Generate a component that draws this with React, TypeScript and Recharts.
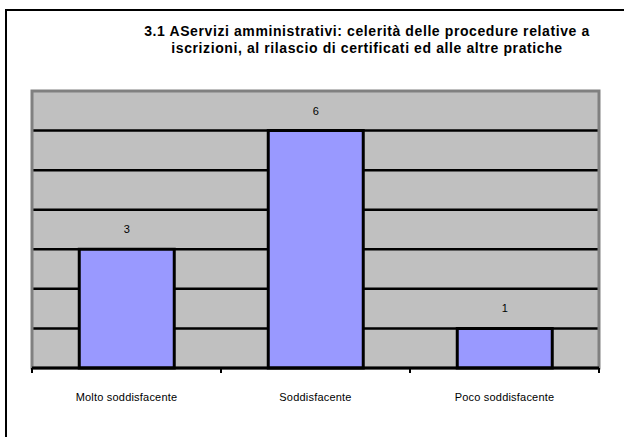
import { BarChart, Bar, XAxis, YAxis, CartesianGrid, LabelList, ReferenceArea } from "recharts";

const categories = ["Molto soddisfacente", "Soddisfacente", "Poco soddisfacente"];
const counts = [3, 6, 1];
const yTicks = [0, 1, 2, 3, 4, 5, 6, 7];
const gridValues = [1, 2, 3, 4, 5, 6];
const titleLines = [
  "3.1 AServizi amministrativi: celerità delle procedure relative a",
  "iscrizioni, al rilascio di certificati ed alle altre pratiche",
];

const data = categories.map((name, i) => ({ name, value: counts[i] }));

const FONT = "'Liberation Sans', Arial, sans-serif";

function CategoryTick(props: any) {
  const { x, y, payload } = props;
  const half = payload?.offset ?? 0;
  return (
    <g>
      <line x1={x - half} x2={x - half} y1={y} y2={y + 5} stroke="#000" strokeWidth={2} />
      {payload?.index === categories.length - 1 && (
        <line x1={x + half} x2={x + half} y1={y} y2={y + 5} stroke="#000" strokeWidth={2} />
      )}
      <text x={x} y={y + 33} textAnchor="middle" fontSize={11} fontFamily={FONT} letterSpacing={0.2} fill="#000">
        {payload.value}
      </text>
    </g>
  );
}

export default function App() {
  return (
    <div style={{ position: "absolute", left: 0, top: 0, width: 624, height: 437, overflow: "hidden", background: "#fff" }}>
      <div
        style={{
          position: "absolute",
          left: 5,
          top: 9,
          width: 700,
          height: 600,
          border: "2px solid #000",
        }}
      />
      <div
        style={{
          position: "absolute",
          left: 117,
          top: 23,
          width: 500,
          textAlign: "center",
          fontFamily: FONT,
          fontWeight: "bold",
          fontSize: 14,
          letterSpacing: 0.6,
          lineHeight: "17px",
          color: "#000",
        }}
      >
        {titleLines.map((t) => (
          <div key={t}>{t}</div>
        ))}
      </div>
      <div style={{ position: "absolute", left: 0, top: 0 }}>
        <BarChart
          width={624}
          height={437}
          data={data}
          margin={{ top: 91, right: 25, bottom: 29, left: 32 }}
          barCategoryGap="25%"
        >
          <CartesianGrid
            vertical={false}
            horizontalValues={gridValues}
            stroke="#000"
            strokeWidth={2.5}
            fill="#c0c0c0"
            fillOpacity={1}
          />
          <ReferenceArea y1={0} y2={7} fill="none" stroke="#808080" strokeWidth={3} />
          <YAxis hide domain={[0, 7]} ticks={yTicks} />
          <XAxis
            dataKey="name"
            height={40}
            axisLine={{ stroke: "#000", strokeWidth: 3 }}
            tickLine={false}
            tickSize={0}
            tickMargin={0}
            tick={<CategoryTick />}
            interval={0}
          />
          <Bar dataKey="value" fill="#9999ff" stroke="#000" strokeWidth={3} isAnimationActive={false}>
            <LabelList dataKey="value" position="top" offset={16} fontSize={11} fontFamily={FONT} fill="#000" />
          </Bar>
        </BarChart>
      </div>
    </div>
  );
}
